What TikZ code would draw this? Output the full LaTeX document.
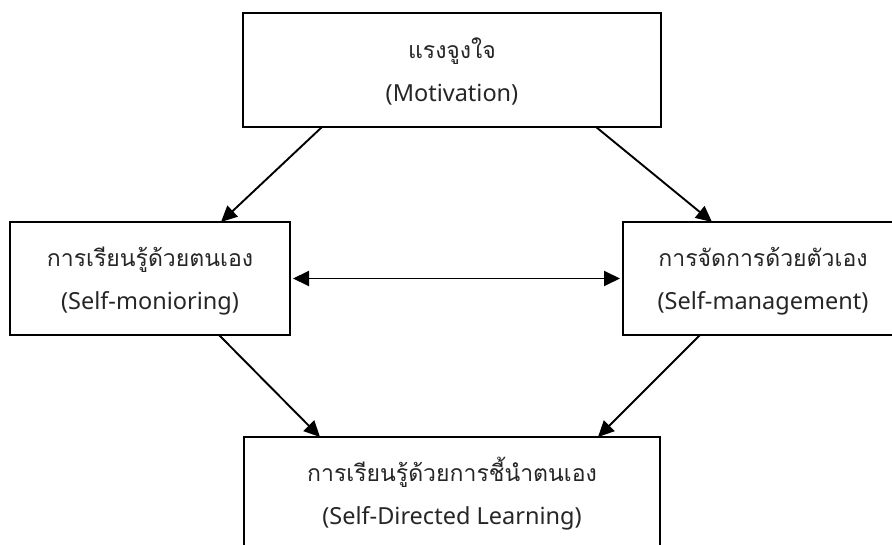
\documentclass[tikz,border=0pt]{standalone}
\usepackage{fontspec}
\setmainfont{Noto Sans}
\newfontfamily\thaifont[Script=Thai,Scale=0.98]{Loma}
\usetikzlibrary{arrows.meta}
\tikzset{
  box/.style={draw, line width=2.2pt, outer sep=0pt, inner sep=0pt, align=center,
    font=\fontsize{23.5}{27}\selectfont, text=black!85},
  arr/.style={line width=1.9pt, -{Triangle[length=16pt,width=15pt]}},
  darr/.style={line width=1.9pt, {Triangle[length=16pt,width=15pt]}-{Triangle[length=16pt,width=15pt]}}
}
\newcommand{\twolines}[2]{\mbox{}\\[-3pt]{\thaifont #1}\\[16pt]#2}
\begin{document}
\begin{tikzpicture}[x=1pt,y=-1pt]
\useasboundingbox (0,0) rectangle (892,545);
\clip (0,0) rectangle (892,545);
\fill[white] (0,0) rectangle (892,545);
\node[box, minimum width=418pt, minimum height=114pt] (top) at (452,70)
  {\twolines{แรงจูงใจ}{(Motivation)}};
\node[box, minimum width=280pt, minimum height=113pt] (L) at (150,278.5)
  {\twolines{การเรียนรู้ด้วยตนเอง}{(Self-monioring)}};
\node[box, minimum width=280pt, minimum height=113pt] (R) at (763,278.5)
  {\twolines{การจัดการด้วยตัวเอง}{(Self-management)}};
\node[box, minimum width=416pt, minimum height=113pt] (B) at (452,493.5)
  {\twolines{การเรียนรู้ด้วยการชี้นำตนเอง}{(Self-Directed Learning)}};
\draw[arr] ([xshift=79pt]top.south west) -- ([xshift=211pt]L.north west);
\draw[arr] ([xshift=353pt]top.south west) -- ([xshift=89pt]R.north west);
\draw[darr] ([xshift=3pt]L.east) -- ([xshift=-3pt]R.west);
\draw[arr] ([xshift=209pt]L.south west) -- ([xshift=76pt]B.north west);
\draw[arr] ([xshift=77pt]R.south west) -- ([xshift=-62pt]B.north east);
\end{tikzpicture}
\end{document}
